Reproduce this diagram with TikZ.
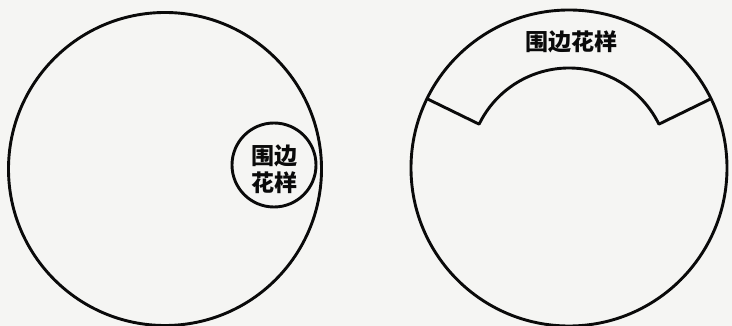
\documentclass[tikz,border=0pt]{standalone}
\usepackage{fontspec}
\newfontfamily\cjk{Noto Sans CJK SC}
\usetikzlibrary{calc}
\definecolor{paper}{HTML}{F5F5F3}
\definecolor{ink}{HTML}{0A0A0A}
\tikzset{
  ring/.style={circle, draw=ink, line width=2.9pt, inner sep=0pt},
  lab/.style={font=\cjk\bfseries\fontsize{23}{27}\selectfont, text=ink, align=center, inner sep=0pt},
  edge/.style={draw=ink, line width=2.9pt, line join=round}
}
\begin{document}
\begin{tikzpicture}[x=1pt,y=-1pt]
\fill[paper] (0,0) rectangle (732,326);
\useasboundingbox (0,0) rectangle (732,326);
% left figure
\node[ring, minimum size=313pt] (L) at (165,169) {};
\node[ring, minimum size=84pt] (S) at (274,165) {};
\node[lab] (SL) at (274,169) {围边\\花样};
% right figure
\node[ring, minimum size=316pt] (R) at (569,168) {};
\coordinate (C) at (569,168);
\coordinate (OL) at ([shift={(-154:158)}]C);
\coordinate (IL) at ([shift={(-154:100)}]C);
\coordinate (OR) at ([shift={(-26:158)}]C);
\coordinate (IR) at ([shift={(-26:100)}]C);
\draw[edge] (OL) -- (IL) arc[start angle=-154, end angle=-26, radius=100] -- (OR);
\node[lab] (RL) at (571,42) {围边花样};
\end{tikzpicture}
\end{document}
